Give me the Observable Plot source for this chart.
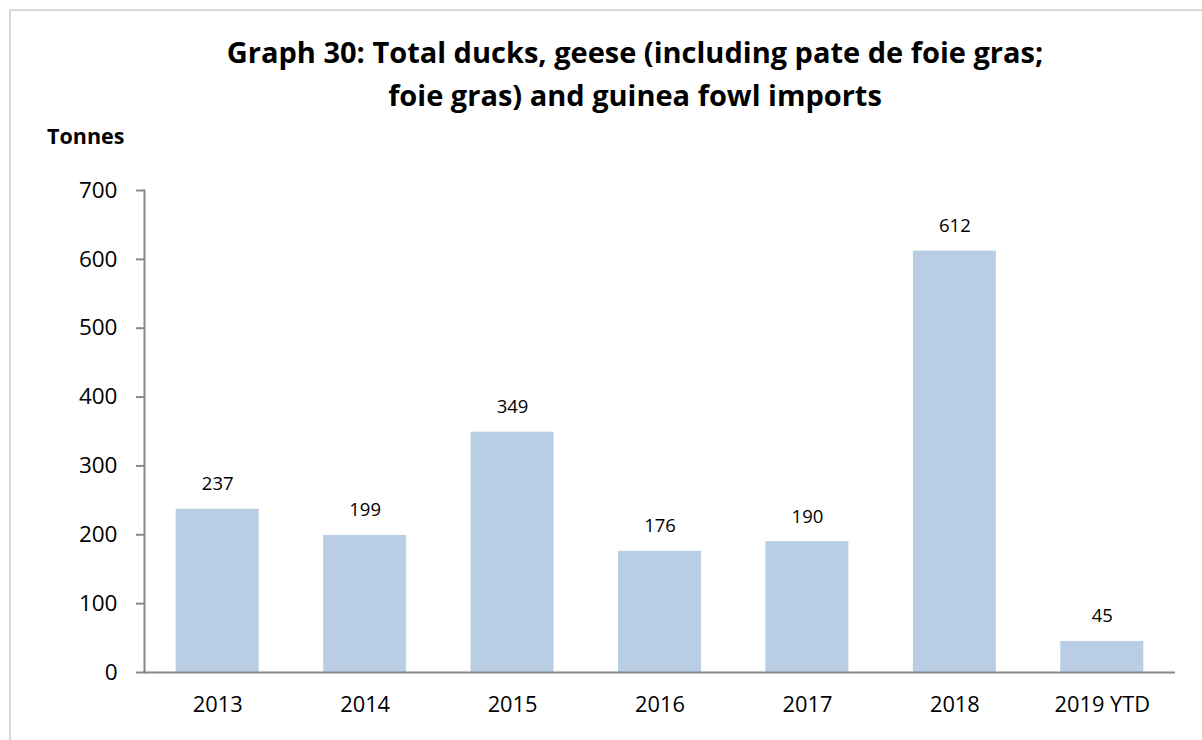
<!DOCTYPE html>
<html>
<head>
<meta charset="utf-8">
<script src="https://cdn.jsdelivr.net/npm/d3@7"></script>
<script src="https://cdn.jsdelivr.net/npm/@observablehq/plot@0.6"></script>
<style>
  html, body { margin: 0; padding: 0; background: #fff; }
  body { width: 1202px; height: 740px; overflow: hidden; position: relative; font-family: "Open Sans", sans-serif; }
  #frame { position: absolute; left: 9px; top: 9px; width: 1220px; height: 760px; border: 2px solid #d9d9d9; box-sizing: border-box; pointer-events: none; }
  #title { height: 120px; box-sizing: border-box; padding-top: 30px; padding-left: 68px; text-align: center; font-weight: bold; font-size: 29px; line-height: 43px; color: #000; }
  #unit { position: absolute; left: 47px; top: 121px; font-weight: bold; font-size: 21.5px; color: #000; }
  #chart { position: absolute; left: 0; top: 120px; }
</style>
</head>
<body>
<div id="frame"></div>
<div id="title">Graph 30: Total ducks, geese (including pate de foie gras;<br>foie gras) and guinea fowl imports</div>
<div id="unit">Tonnes</div>
<div id="chart"></div>
<script>
const years = ["2013", "2014", "2015", "2016", "2017", "2018", "2019 YTD"];
const tonnes = [237, 199, 349, 176, 190, 612, 45];
const yTicks = [0, 100, 200, 300, 400, 500, 600, 700];

const data = years.map((y, i) => ({year: y, value: tonnes[i]}));

const chart = Plot.plot({
  width: 1202,
  height: 620,
  marginLeft: 144,
  marginRight: 27,
  marginTop: 70,
  marginBottom: 68,
  style: {fontFamily: "Open Sans, sans-serif", background: "transparent", color: "#000"},
  x: {domain: years, paddingInner: 0.437, paddingOuter: 0.215, round: false, label: null},
  y: {domain: [0, 700], label: null},
  marks: [
    Plot.barY(data, {x: "year", y: "value", fill: "#B9CDE5"}),
    Plot.text(data, {x: "year", y: "value", text: d => String(d.value), dy: -25, fontSize: 18.5, fill: "#000"}),
    Plot.frame({anchor: "left", stroke: "#888", strokeWidth: 2}),
    Plot.ruleY([0], {stroke: "#888", strokeWidth: 2}),
    Plot.axisY({ticks: yTicks, tickSize: 8, tickPadding: 19, fontSize: 22.5, stroke: "#888", strokeWidth: 2, fill: "#000", label: null}),
    Plot.axisX({tickSize: 0, tickPadding: 24, fontSize: 21.8, fill: "#000", label: null})
  ]
});
document.getElementById("chart").appendChild(chart);
</script>
</body>
</html>
